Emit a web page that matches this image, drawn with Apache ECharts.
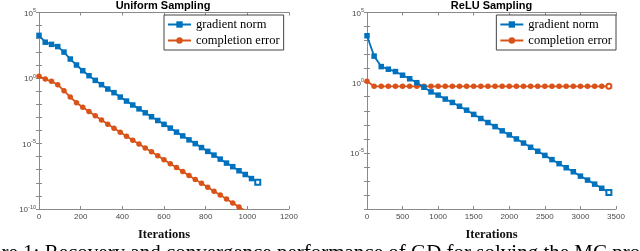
<!DOCTYPE html>
<html>
<head>
<meta charset="utf-8">
<script src="https://cdn.jsdelivr.net/npm/echarts@6/dist/echarts.min.js"></script>
<style>
html,body{margin:0;padding:0;background:#fff;}
#chart{width:640px;height:251px;}
</style>
</head>
<body>
<div id="chart"></div>
<script>
// ---- Data ----
var uniformIters = [0,30,60,90,120,150,180,210,240,270,300,330,360,390,420,450,480,510,540,570,600,630,660,690,720,750,780,810,840,870,900,930,960,990,1020,1050];
var uniformGradNorm = [1.8e3,5.4e2,3.7e2,2.5e2,95,28,9.8,3.6,1.5,0.66,0.31,0.145,7.6e-2,3.5e-2,1.74e-2,8.7e-3,4.4e-3,2.2e-3,1.1e-3,5.7e-4,2.9e-4,1.5e-4,7.4e-5,3.8e-5,1.9e-5,9.8e-6,4.9e-6,2.5e-6,1.3e-6,6.4e-7,3.2e-7,1.7e-7,8.3e-8,4.3e-8,2.1e-8,1.1e-8];
var uniformCompErr = [1.35,0.83,0.56,0.30,0.107,3.5e-2,1.3e-2,5.8e-3,2.75e-3,1.32e-3,6.3e-4,3.0e-4,1.45e-4,7.2e-5,3.6e-5,1.8e-5,9.1e-6,4.6e-6,2.3e-6,1.15e-6,5.8e-7,2.9e-7,1.45e-7,7.2e-8,3.6e-8,1.8e-8,9.1e-9,4.6e-9,2.3e-9,1.15e-9,5.8e-10,2.9e-10,1.45e-10,7.2e-11,3.6e-11,1.8e-11];

var reluIters = [0,100,200,300,400,500,600,700,800,900,1000,1100,1200,1300,1400,1500,1600,1700,1800,1900,2000,2100,2200,2300,2400,2500,2600,2700,2800,2900,3000,3100,3200,3300,3400];
var reluGradNorm = [2.2e3,78,14,9.1,6.2,3.4,1.9,1.0,0.47,0.22,0.13,6.8e-2,3.9e-2,2.1e-2,1.1e-2,5.5e-3,2.8e-3,1.45e-3,7.4e-4,3.7e-4,1.9e-4,9.8e-5,5.0e-5,2.5e-5,1.3e-5,6.6e-6,3.3e-6,1.7e-6,8.7e-7,4.5e-7,2.2e-7,1.15e-7,5.9e-8,3.0e-8,1.5e-8];
var reluCompErr = [1.26,0.55,0.55,0.55,0.55,0.55,0.55,0.55,0.55,0.55,0.55,0.55,0.55,0.55,0.55,0.55,0.55,0.55,0.55,0.55,0.55,0.55,0.55,0.55,0.55,0.55,0.55,0.55,0.55,0.55,0.55,0.55,0.55,0.55,0.55];

var seriesNames = ['gradient norm', 'completion error'];
var panelTitles = ['Uniform Sampling', 'ReLU Sampling'];
var xAxisName = 'Iterations';
var captionText = 'Figure 1: Recovery and convergence performance of GD for solving the MC problem';

// ---- Styling ----
var BLUE = '#0072BD', ORANGE = '#D95319';
var AXIS = '#8a8a8a', LABEL = '#4a4a4a';
var SANS = 'Liberation Sans, Arial, sans-serif';
var SERIF = 'Liberation Serif, Times New Roman, serif';

function pairs(xs, ys, hollowSymbol) {
  return ys.map(function (v, i) {
    if (i === ys.length - 1 && hollowSymbol) {
      return { value: [xs[i], v], symbol: hollowSymbol, symbolSize: 5, itemStyle: { borderWidth: 1.5 } };
    }
    return [xs[i], v];
  });
}

function logLabel(v) {
  var e = Math.round(Math.log10(v));
  if (e % 5 !== 0) return '';
  return '{b|10}{s|' + e + '}';
}

var logRich = {
  b: { fontSize: 8, fontFamily: SANS, color: LABEL, lineHeight: 10, verticalAlign: 'bottom', padding: [3, 0, 0, 0] },
  s: { fontSize: 5.5, fontFamily: SANS, color: LABEL, lineHeight: 10, verticalAlign: 'top' }
};

function xAx(grid, max, interval, top) {
  return {
    type: 'value', gridIndex: grid, min: 0, max: max, interval: interval,
    position: top ? 'top' : 'bottom',
    axisLine: { show: true, lineStyle: { color: AXIS, width: 1 } },
    axisTick: { show: true, inside: true, length: 3, lineStyle: { color: AXIS } },
    axisLabel: { show: !top, fontSize: 8, fontFamily: SANS, color: LABEL, margin: 4,
      formatter: function (v) { return String(v); } },
    splitLine: { show: false },
    name: top ? '' : xAxisName,
    nameLocation: 'middle', nameGap: 19,
    nameTextStyle: { fontFamily: SERIF, fontWeight: 'bold', fontSize: 12.5, color: '#111' }
  };
}

function yAx(grid, min, max, right) {
  return {
    type: 'log', logBase: 10, gridIndex: grid, min: min, max: max, interval: 1,
    position: right ? 'right' : 'left',
    axisLine: { show: true, lineStyle: { color: AXIS, width: 1 } },
    axisTick: { show: true, inside: true, length: 3, lineStyle: { color: AXIS } },
    axisLabel: { show: !right, formatter: logLabel, rich: logRich, margin: 3 },
    splitLine: { show: false }
  };
}

function lineSeries(name, xi, yi, data, color, sym) {
  return {
    type: 'line', name: name, xAxisIndex: xi, yAxisIndex: yi,
    data: data, color: color, symbol: sym, symbolSize: 5.5,
    lineStyle: { width: 1.8, color: color },
    itemStyle: { color: color, borderColor: color, borderWidth: 0 },
    clip: true, animation: false, z: name === seriesNames[0] ? 3 : 2
  };
}

function legendBox(pos) {
  return Object.assign({
    orient: 'vertical', top: 15, itemWidth: 23, itemHeight: 8, itemGap: 3,
    padding: [3, 4, 3, 3], borderColor: '#444', borderWidth: 1, backgroundColor: '#fff',
    selectedMode: false, data: seriesNames,
    textStyle: { fontFamily: SERIF, fontSize: 12.5, color: '#000' }
  }, pos);
}

var chart = echarts.init(document.getElementById('chart'), null, { renderer: 'canvas' });
chart.setOption({
  backgroundColor: '#fff',
  animation: false,
  grid: [
    { left: 39, top: 12.5, width: 250, height: 196.5 },
    { left: 367, top: 12.5, width: 249, height: 196.5 }
  ],
  xAxis: [xAx(0, 1200, 200, false), xAx(0, 1200, 200, true), xAx(1, 3500, 500, false), xAx(1, 3500, 500, true)],
  yAxis: [yAx(0, 1e-10, 1e5, false), yAx(0, 1e-10, 1e5, true), yAx(1, 1e-9, 1e5, false), yAx(1, 1e-9, 1e5, true)],
  legend: [legendBox({ left: 164 }), legendBox({ right: 24 })],
  series: [
    lineSeries(seriesNames[0], 0, 0, pairs(uniformIters, uniformGradNorm, 'emptyRect'), BLUE, 'rect'),
    lineSeries(seriesNames[1], 0, 0, pairs(uniformIters, uniformCompErr, null), ORANGE, 'circle'),
    lineSeries(seriesNames[0], 2, 2, pairs(reluIters, reluGradNorm, 'emptyRect'), BLUE, 'rect'),
    lineSeries(seriesNames[1], 2, 2, pairs(reluIters, reluCompErr, 'emptyCircle'), ORANGE, 'circle')
  ],
  graphic: [
    { type: 'text', x: 163, y: 6, style: { text: panelTitles[0], font: 'bold 11px ' + SANS, fill: '#000', textAlign: 'center', textVerticalAlign: 'middle' } },
    { type: 'text', x: 491.5, y: 6, style: { text: panelTitles[1], font: 'bold 11px ' + SANS, fill: '#000', textAlign: 'center', textVerticalAlign: 'middle' } },
    { type: 'text', x: -37, y: 253, style: { text: captionText, font: '21px ' + SERIF, fill: '#000', textAlign: 'left', textVerticalAlign: 'middle' } }
  ]
});
</script>
</body>
</html>
